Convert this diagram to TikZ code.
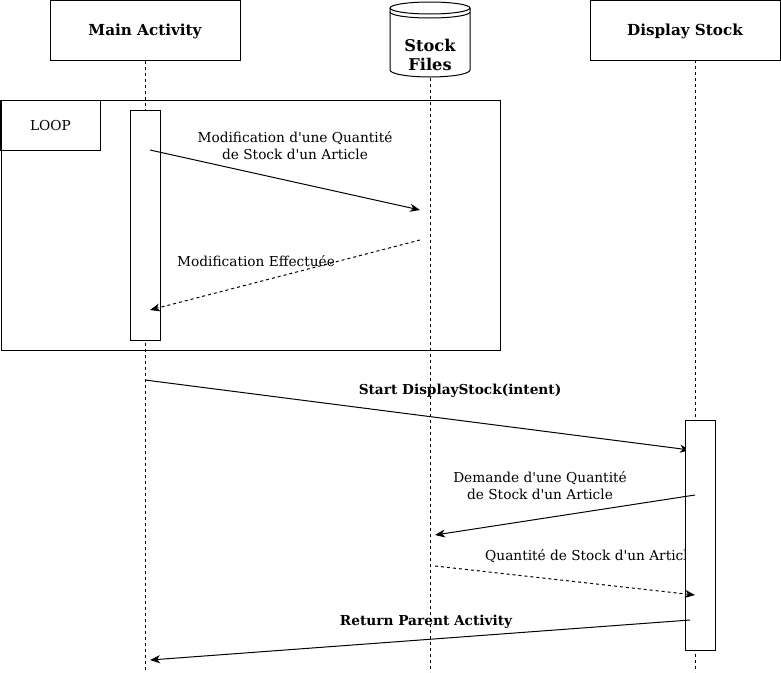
\documentclass[tikz,border=0pt]{standalone}
\usepackage{fontspec}
\setmainfont{DejaVu Serif}[Ligatures=TeXOff]
\usetikzlibrary{arrows.meta}

\tikzset{
  lifebox/.style={draw, line width=1pt, fill=white, minimum width=190pt, minimum height=60pt,
    inner sep=0pt, text height=11pt, text depth=0pt, font=\fontsize{15.2}{18}\selectfont\bfseries},
  lifeline/.style={line width=1pt, dash pattern=on 3pt off 3pt},
  actbox/.style={draw, line width=1pt, fill=white, minimum width=30pt, minimum height=230pt, inner sep=0pt},
  msg/.style={line width=1pt, -{Stealth[length=10pt,width=8pt,inset=3pt]}},
  reply/.style={msg, dash pattern=on 3pt off 3pt},
  lbl/.style={align=center, inner sep=0pt, font=\fontsize{13.7}{17}\selectfont},
  blbl/.style={lbl, font=\fontsize{13.7}{17}\selectfont\bfseries},
}

\begin{document}
\begin{tikzpicture}[x=1pt,y=-1pt]
\useasboundingbox (0,0) rectangle (781,672);

% heads of the three lifelines
\node[lifebox] (main) at (145,30) {Main Activity};
\node[lifebox] (disp) at (685,30) {Display Stock};

\draw[line width=1pt, fill=white] (390,8) -- (390,70)
  arc[start angle=180, end angle=360, x radius=40pt, y radius=7pt] -- (470,8)
  arc[start angle=0, end angle=180, x radius=40pt, y radius=6pt] -- cycle;
\draw[line width=1pt] (390,8) arc[start angle=180, end angle=360, x radius=40pt, y radius=6pt];
\draw[line width=1pt] (390,12) arc[start angle=180, end angle=360, x radius=40pt, y radius=6pt];
\node[font=\fontsize{16.2}{19}\selectfont\bfseries, align=center, inner sep=0pt] (stock) at (430,54.5) {Stock\\Files};

% lifelines
\coordinate (stocktop) at (430,78);
\coordinate (mainend) at (145,672);
\coordinate (stockend) at (430,672);
\coordinate (dispend) at (695,672);
\draw[lifeline] (main.south) -- (mainend);
\draw[lifeline] (stocktop) -- (stockend);
\draw[lifeline] (695,60) -- (dispend);

% loop frame
\node[draw, line width=1pt, minimum width=499pt, minimum height=250pt, inner sep=0pt] (loop) at (250.5,225) {};
\node[draw, line width=1pt, minimum width=100pt, minimum height=50pt, inner sep=0pt,
  text height=10pt, text depth=0pt, font=\fontsize{13.7}{16}\selectfont] (looplbl) at (50.5,125) {LOOP};

% activation of main activity
\node[actbox] (mainact) at (145,225) {};

% messages inside the loop
\coordinate (m1a) at (150,150);
\coordinate (m1b) at (420,210);
\draw[msg] (m1a) -- (m1b);
\node[lbl] (t1) at (295,146) {Modification d'une Quantité\\de Stock d'un Article};

\coordinate (m2a) at (420,240);
\coordinate (m2b) at (150,310);
\draw[reply] (m2a) -- (m2b);
\node[lbl] (t2) at (256,261) {Modification Effectuée};

% start of display stock
\coordinate (m3a) at (145,380);
\coordinate (m3b) at (690,450);
\draw[msg] (m3a) -- (m3b);
\node[blbl] (t3) at (460,391) {Start DisplayStock(intent)};

\node[lbl, anchor=west] (t5) at (485,556) {Quantité de Stock d'un Article};

% activation of display stock
\node[actbox] (dispact) at (700,535) {};

\coordinate (m4a) at (695,495);
\coordinate (m4b) at (435,535);
\draw[msg] (m4a) -- (m4b);
\node[lbl] (t4) at (540,486) {Demande d'une Quantité\\de Stock d'un Article};

\coordinate (m5a) at (435,566);
\coordinate (m5b) at (695,595);
\draw[reply] (m5a) -- (m5b);

\coordinate (m6a) at (690,620);
\coordinate (m6b) at (150,660);
\draw[msg] (m6a) -- (m6b);
\node[blbl] (t6) at (426,622) {Return Parent Activity};
\end{tikzpicture}
\end{document}
